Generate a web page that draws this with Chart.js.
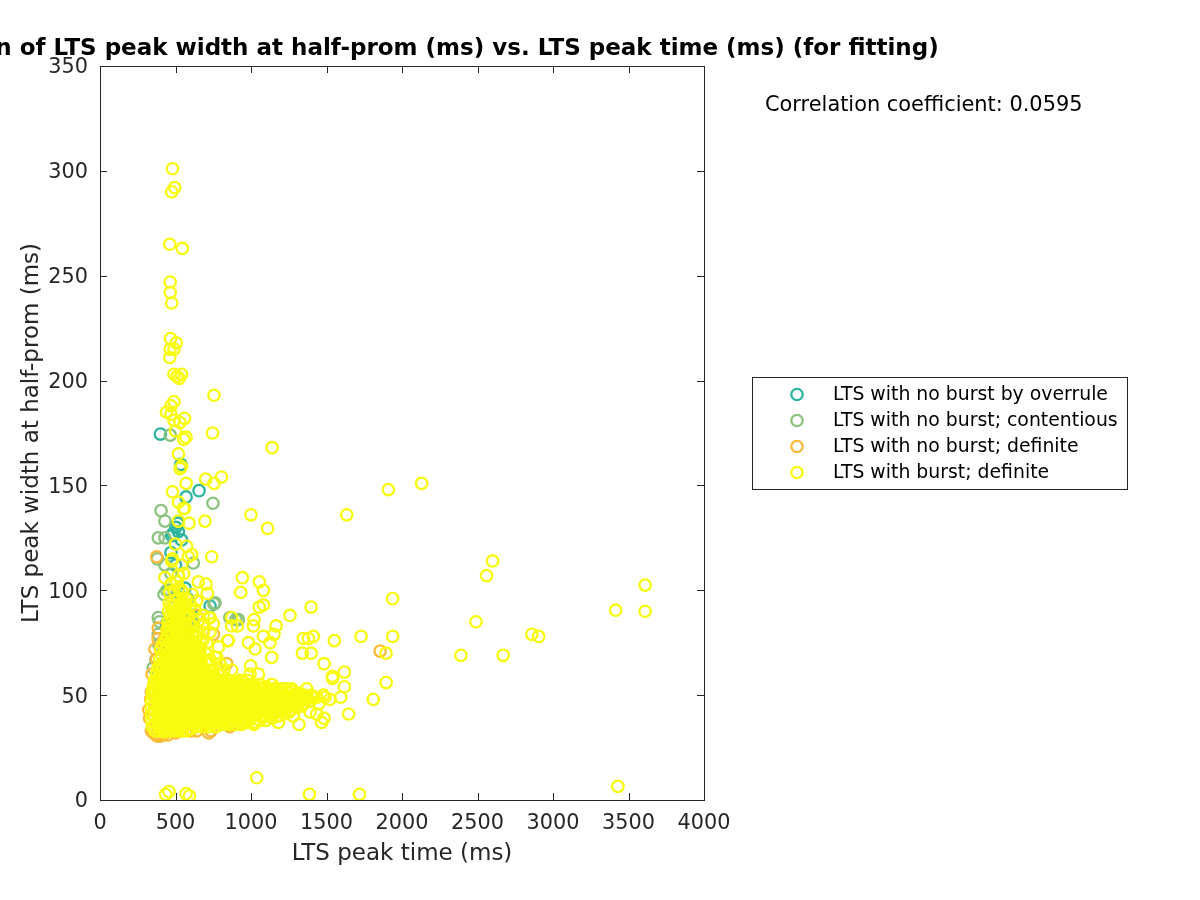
<!DOCTYPE html>
<html><head><meta charset="utf-8">
<style>html,body{margin:0;padding:0;background:#fff;overflow:hidden}canvas{display:block}</style>
<script src="https://cdn.jsdelivr.net/npm/chart.js@4"></script></head>
<body><canvas id="c" width="1200" height="900" style="width:1200px;height:900px"></canvas>
<script>
const titleText = "Correlation of LTS peak width at half-prom (ms) vs. LTS peak time (ms) (for fitting)";
const xLabel = "LTS peak time (ms)";
const yLabel = "LTS peak width at half-prom (ms)";
const corrText = "Correlation coefficient: 0.0595";
const seriesNames = ["LTS with no burst by overrule","LTS with no burst; contentious","LTS with no burst; definite","LTS with burst; definite"];
const seriesColors = ["#2db59f","#8cc37e","#fdbb3a","#f9fb0e"];

const overrulePts = [[400,174.5],[536,160],[656,147.5],[570,144.5],[503,130],[515,132],[483,127],[475,126],[519,128],[540,124],[470,118],[500,112],[563,101],[520,99],[460,100],[729,92.5],[580,96],[610,88],[490,92],[440,84],[415,62],[400,64],[560,78],[590,76]];
const contentiousPts = [[465,174],[748,141.5],[404,138],[430,133],[386,125],[430,125],[380,115],[430,112],[618,113],[470,108],[442,100],[424,98],[762,94],[755,93.5],[916,86],[900,86],[860,87],[386,87],[394,85],[386,79],[390,74],[353,63],[370,67],[560,88],[590,82],[620,85],[600,72],[610,69]];
const definitePts = [[375,116],[1855,71],[386,82],[364,72],[375,67],[385,77],[420,76],[465,78],[400,72],[445,82],[640,88],[751,79],[839,65],[720,32],[735,33],[860,35],[600,33],[380,30.5],[400,30.5],[420,31],[355,32],[370,31],[340,33],[323,43],[328,39],[340,51.6],[345,60],[335,48],[450,31],[500,32],[640,33]];
const burstPts = [
[480,301],[495,292],[475,290],[462,265],[545,263],[465,247],[465,242],[475,237],[467,220],[505,218],[465,215],[490,215],[462,211],[490,203],[510,202],[540,203],[525,201],
[755,193],[490,190],[470,188],[440,185],[470,184],[490,181],[560,182],[530,180],[745,175],[500,176],[570,173],[555,172],[1140,168],[520,165],[540,159],[530,158],[1910,148],[2130,151],[805,154],[700,153],[755,151],[570,151],[480,147],[520,142],[560,139],[552,139],[1000,136],[1634,136],[695,133],[1110,129.5],[590,132],[519,133],
[3610,102.5],[3610,90],[3415,90.5],[3430,6.5],[2600,114],[2560,107],[2490,85],[2390,69],[2670,69],[2860,79],[2905,78],[1938,96],[1938,78],[1894,70],[1729,78],[1895,56],[1618,54],[1618,61],[1647,41],[1810,48],[1718,2.7],[1387,2.7],[1038,10.6],[592,2],[570,3],[457,4],[435,2.7],
[943,106],[1055,104],[1082,100],[932,99],[1398,92],[1258,88],[1082,93],[1055,92],[872,87],[1020,86],[1166,83],[1016,83],[872,83],[910,83],[1152,79],[1082,78],[983,75],[1027,72],[1126,75],[1137,68],[998,64],[846,76],[1347,77],[1413,78],[1380,77],[1552,76],[1340,70],[1398,70],[1484,65],[1539,59],[1594,49],[1523,48],[1479,50],[1435,49],[1484,39],[1435,41],[1468,37],[1391,42],[1318,36],[1280,40],[1181,37],[740,116],[651,104],[702,103],[711,98.5],[722,87],[751,84],[784,73],[773,68],[872,62],[994,60],[1049,60],[1137,55],[1203,53],[1270,53],[1369,53],[1540,58],[1490,49],[1450,46],
[585,116],[574,121],[607,117],[475,114],[519,107],[430,106],[540,112],[500,122],[480,115],[555,108],[470,103],[510,104],[540,100],[570,96],[600,93],[630,90],[660,86],[690,84],[640,80],[680,76],[660,72],[700,70],[720,66],[670,64],[740,62],[790,62],
[729,87],[684,80],[707,75],[662,71],[850,76],[795,65],[729,67],[684,88],[629,91],[729,80],[662,76],[762,68],[820,62],[610,98],[640,95],
[462,99],[490,100],[520,101],[548,99],[458,94],[486,95],[514,96],[542,94],[568,93],[454,90],[482,90],[510,91],[538,90],[566,89],[592,88],[450,85],[478,86],[506,85],[534,86],[562,84],[590,84],[616,83],[444,81],[472,80],[500,81],[528,80],[556,81],[584,79],[612,79],[638,78],[432,76],[460,75],[488,76],[516,75],[544,76],[572,74],[600,75],[628,74],[652,73],[402,72],[430,71],[458,70],[486,71],[514,70],[542,71],[570,69],[598,70],[626,69],[652,70],[395,67],[423,66],[451,67],[479,66],[507,67],[535,66],[563,67],[591,65],[619,66],[645,65],[668,66],
[384,63],[415,62],[445,63],[475,62],[505,63],[535,62],[565,63],[595,62],[625,63],[655,62],[685,63],
[372,60],[405,59],[440,60],[475,59],[510,60],[545,59],[580,60],[615,59],[650,60],[685,59],[720,60],[755,59],[780,60],
[362,57],[400,57],[438,56],[476,57],[514,56],[552,57],[590,56],[628,57],[666,56],[704,57],[742,56],[780,57],[818,56],[856,57],[894,56],[932,57],[975,57],
[356,55],[395,54],[434,55],[473,54],[512,55],[551,54],[590,55],[629,54],[668,55],[707,54],[746,55],[785,54],[824,55],[863,54],[902,55],[941,54],[980,55],[1019,54],[1058,55],[1100,54],[1140,55],
[350,52],[392,53],[434,52],[476,53],[518,52],[560,53],[602,52],[644,53],[686,52],[728,53],[770,52],[812,53],[854,52],[896,53],[938,52],[980,53],[1022,52],[1064,53],[1106,52],[1148,53],[1190,52],[1232,53],[1274,52],[1310,51],
[346,50],[388,50],[430,49],[472,50],[514,49],[556,50],[598,49],[640,50],[682,49],[724,50],[766,49],[808,50],[850,49],[892,50],[934,49],[976,50],[1018,49],[1060,50],[1102,49],[1144,50],[1186,49],[1228,50],[1270,49],[1312,50],[1354,49],[1396,50],
[342,47],[384,47],[426,46],[468,47],[510,46],[552,47],[594,46],[636,47],[678,46],[720,47],[762,46],[804,47],[846,46],[888,47],[930,46],[972,47],[1014,46],[1056,47],[1098,46],[1140,47],[1182,46],[1224,47],[1266,46],[1308,47],[1350,46],[1392,47],
[340,44],[382,44],[424,43],[466,44],[508,43],[550,44],[592,43],[634,44],[676,43],[718,44],[760,43],[802,44],[844,43],[886,44],[928,43],[970,44],[1012,43],[1054,44],[1096,43],[1138,44],[1180,43],[1222,44],[1264,43],[1306,44],[1340,45],
[340,41],[382,41],[424,40],[466,41],[508,40],[550,41],[592,40],[634,41],[676,40],[718,41],[760,40],[802,41],[844,40],[886,41],[928,40],[970,41],[1012,40],[1054,41],[1096,40],[1138,41],[1180,40],[1222,41],[1252,42],
[344,38],[386,38],[428,37],[470,38],[512,37],[554,38],[596,37],[638,38],[680,37],[722,38],[764,37],[806,38],[848,37],[890,38],[932,37],[974,38],[1016,37],[1058,38],[1100,38],[1140,39],
[348,35],[390,35],[432,34],[474,35],[516,34],[558,35],[600,34],[642,35],[684,35],[726,35],[768,35],[810,36],[852,36],[894,36],[936,36],[978,37],[1020,36],
[365,33],[395,33],[425,32.5],[455,33],[485,33],[515,33],[545,33],[575,33],[605,34]
];
const burstCorePts = [
[366,36.5],[408,36],[450,36.5],[492,36],[534,36.5],[576,36],[618,36.5],[660,36],[702,36.5],[744,36],[786,37],[828,38],[870,38.5],[912,38.5],[955,39],[1000,39],
[362,39.5],[404,39],[446,39.5],[488,39],[530,39.5],[572,39],[614,39.5],[656,39],[698,39.5],[740,39],[782,39.5],[824,39],[866,40],[908,40],[950,40.5],[992,40],[1034,40.5],[1076,40],[1118,41],[1160,41.5],
[360,42.5],[402,42],[444,42.5],[486,42],[528,42.5],[570,42],[612,42.5],[654,42],[696,42.5],[738,42],[780,42.5],[822,42],[864,42.5],[906,42],[948,42.5],[990,42],[1032,42.5],[1074,42],[1116,42.5],[1158,42],[1200,43],[1242,44],[1285,45],
[360,45.5],[402,45],[444,45.5],[486,45],[528,45.5],[570,45],[612,45.5],[654,45],[696,45.5],[738,45],[780,45.5],[822,45],[864,45.5],[906,45],[948,45.5],[990,45],[1032,45.5],[1074,45],[1116,45.5],[1158,45],[1200,45.5],[1242,45],[1284,46],[1326,47],[1370,48],
[364,48.5],[406,48],[448,48.5],[490,48],[532,48.5],[574,48],[616,48.5],[658,48],[700,48.5],[742,48],[784,48.5],[826,48],[868,48.5],[910,48],[952,48.5],[994,48],[1036,48.5],[1078,48],[1120,48.5],[1162,48],[1204,48.5],[1246,48],[1288,48.5],[1330,48],[1372,49],[1412,49],
[368,51.5],[410,51],[452,51.5],[494,51],[536,51.5],[578,51],[620,51.5],[662,51],[704,51.5],[746,51],[788,51.5],[830,51],[872,51.5],[914,51],[956,51.5],[998,51],[1040,51.5],[1082,51],[1124,51.5],[1166,51],[1208,51],[1250,51],[1292,50.5],[1335,50.5],
[374,54],[412,53.5],[452,54],[492,53.5],[532,54],[572,53.5],[612,54],[652,53.5],[692,54],[732,53.5],[772,54],[812,53.5],[852,54],[892,53.5],[932,54],[972,53.5],[1012,54],[1052,53.5],[1092,53.5],[1125,53],
[380,56],[420,55.5],[458,56],[496,55.5],[534,56],[572,55.5],[610,56],[648,55.5],[686,56],[724,55.5],[762,56],[800,55.5],[838,56],[876,55.5],[914,56],[955,56],
[388,58.5],[422,58],[458,58.5],[492,58],[528,58.5],[562,58],[598,58.5],[632,58],[668,58.5],[702,58],[738,58.5],
[398,61.5],[430,61],[460,61.5],[490,61],[520,61.5],[550,61],[580,61.5],[610,61],[640,61.5],[670,61],[700,61.5],
[402,64.5],[434,65],[464,64.5],[492,65],[520,64.5],[550,65],[578,64.5],[606,65],[634,64.5],[660,65],
[410,69],[437,68.5],[465,69],[493,68.5],[521,69],[549,68.5],[577,69],[605,68.5],[633,69],
[416,74],[444,73.5],[472,74],[500,73.5],[528,74],[556,73.5],[584,74],[612,73.5],[638,74],
[446,78],[474,78.5],[502,78],[530,78.5],[558,78],[586,78.5],[614,78],
[458,83],[486,83.5],[514,83],[542,83.5],[570,83],[598,83.5],
[466,88],[494,88],[522,88.5],[550,88],[578,87.5],
[470,92.5],[498,93],[526,92.5],[554,92]
];
const xTicks = [0,500,1000,1500,2000,2500,3000,3500,4000];
const yTicks = [0,50,100,150,200,250,300,350];

const FONT = "'DejaVu Sans'";
const INK = "#262626";
const frame = {
  id: "frame",
  afterDatasetsDraw(chart) {
    const {ctx, chartArea: a, scales: {x, y}} = chart;
    ctx.save();
    ctx.strokeStyle = INK; ctx.lineWidth = 1;
    ctx.strokeRect(a.left + .5, a.top + .5, a.width, a.height);
    ctx.beginPath();
    const L = 7;
    xTicks.forEach(v => { const p = Math.round(x.getPixelForValue(v)) + .5;
      ctx.moveTo(p, a.bottom); ctx.lineTo(p, a.bottom - L); ctx.moveTo(p, a.top); ctx.lineTo(p, a.top + L); });
    yTicks.forEach(v => { const p = Math.round(y.getPixelForValue(v)) + .5;
      ctx.moveTo(a.left, p); ctx.lineTo(a.left + L, p); ctx.moveTo(a.right, p); ctx.lineTo(a.right - L, p); });
    ctx.stroke();
    ctx.fillStyle = "#000"; ctx.textAlign = "center"; ctx.textBaseline = "middle";
    ctx.font = "bold 23px " + FONT;
    ctx.fillText(titleText, (a.left + a.right) / 2 + .5, 49);
    ctx.textAlign = "left";
    ctx.font = "20.9px " + FONT;
    ctx.fillStyle = "#000";
    ctx.fillText(corrText, 765, 106);
    ctx.fillStyle = "#fff"; ctx.fillRect(753, 378, 374, 111);
    ctx.strokeStyle = "#262626"; ctx.strokeRect(752.5, 377.5, 375, 112);
    ctx.font = "18.85px " + FONT;
    const ys = [394.5, 420.5, 446.5, 472.5];
    seriesNames.forEach((n, i) => {
      ctx.beginPath(); ctx.arc(797, ys[i], 5.7, 0, 2 * Math.PI);
      ctx.lineWidth = 2.3; ctx.strokeStyle = seriesColors[i]; ctx.stroke();
      ctx.fillStyle = "#000"; ctx.fillText(n, 833, ys[i] + 1);
    });
    ctx.restore();
  }
};
const ds = (pts, i) => ({label: seriesNames[i], order: 3 - i, data: pts.map(p => ({x: p[0], y: p[1]})),
  pointStyle: "circle", pointRadius: 5.7, pointHoverRadius: 5.7, pointBorderWidth: 2.3, borderColor: seriesColors[i],
  backgroundColor: "transparent", pointBackgroundColor: "transparent", showLine: false});
new Chart(document.getElementById("c"), {
  type: "scatter",
  data: {datasets: [ds(overrulePts,0), ds(contentiousPts,1), ds(definitePts,2), ds(burstPts.concat(burstCorePts),3)]},
  plugins: [frame],
  options: {
    responsive: false, animation: false, devicePixelRatio: 1,
    layout: {padding: {left: 0, top: 66, right: 496, bottom: 32}},
    plugins: {legend: {display: false}, title: {display: false}, tooltip: {enabled: false}},
    scales: {
      x: {type: "linear", min: 0, max: 4000,
        grid: {display: false}, border: {display: false},
        afterBuildTicks(s){ s.ticks = xTicks.map(v => ({value: v})); },
        afterFit(s){ s.height = 68; },
        ticks: {maxRotation: 0, autoSkip: false, padding: 3, color: INK, font: {family: FONT, size: 20.8}, callback: v => String(v)},
        title: {display: true, text: xLabel, color: INK, font: {family: FONT, size: 23}, padding: {top: 0, bottom: 0}}},
      y: {type: "linear", min: 0, max: 350,
        grid: {display: false}, border: {display: false},
        afterBuildTicks(s){ s.ticks = yTicks.map(v => ({value: v})); },
        afterFit(s){ s.width = 100; },
        ticks: {autoSkip: false, padding: 4, labelOffset: 2, color: INK, font: {family: FONT, size: 20.8}, callback: v => String(v)},
        title: {display: true, text: yLabel, color: INK, font: {family: FONT, size: 23}, padding: {top: 18, bottom: 0}}}
    }
  }
});
</script></body></html>
